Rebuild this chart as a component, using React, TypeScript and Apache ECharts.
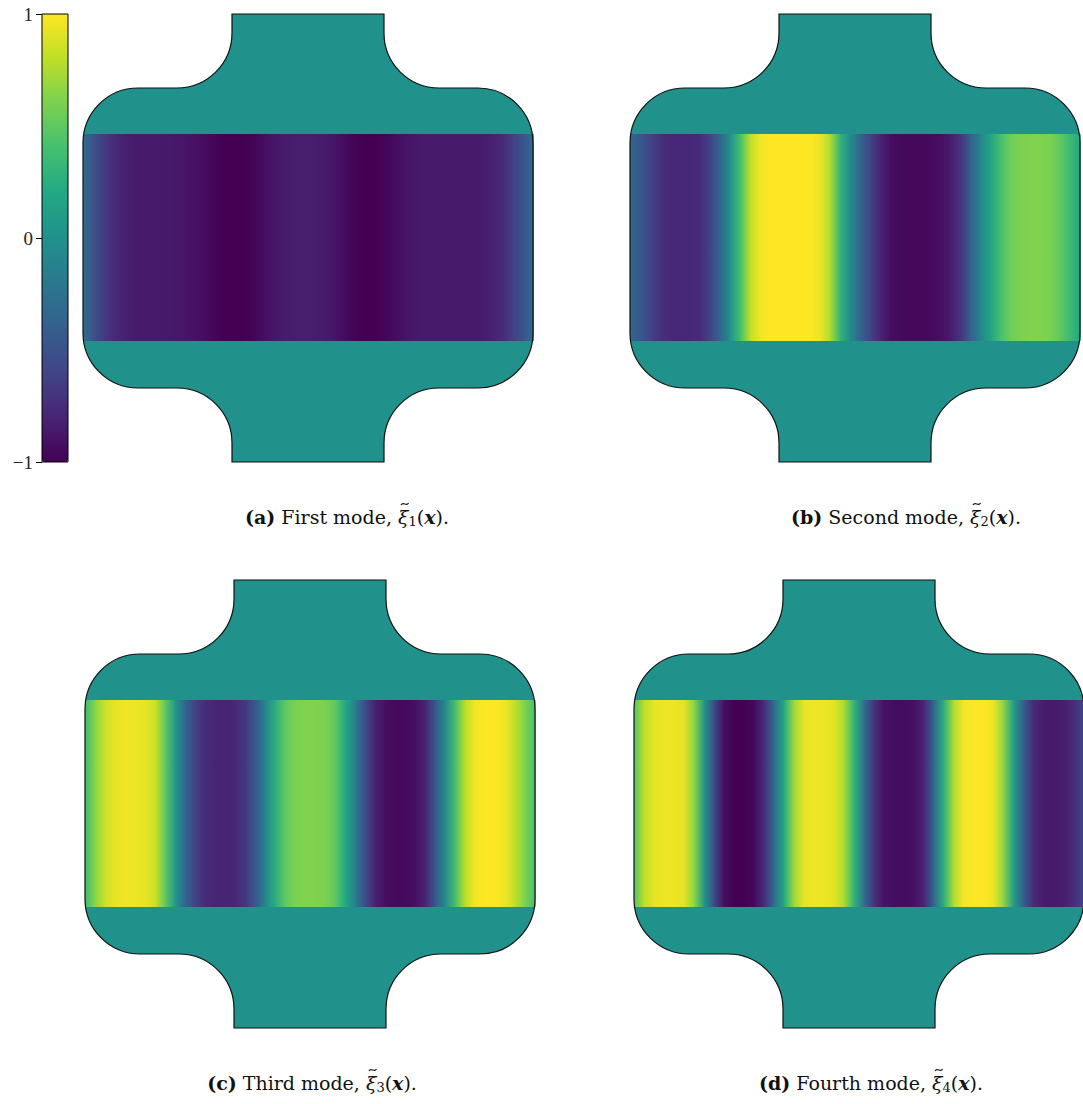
import React, { useEffect, useRef } from "react";
import * as echarts from "echarts";

// ---------- data ----------
const colorbarTicks = [-1, 0, 1];
const sampleIndex = [
  0, 1, 2, 3, 4, 5, 6, 7, 8, 9, 10, 11, 12, 13, 14, 15, 16, 17, 18, 19, 20, 21, 22,
  23, 24, 25, 26, 27, 28, 29, 30, 31, 32, 33, 34, 35, 36, 37, 38, 39, 40, 41, 42, 43, 44, 45,
];
const mode1 = [
  -0.3, -0.5, -0.65, -0.75, -0.82, -0.85, -0.86, -0.86, -0.86, -0.87, -0.88, -0.9, -0.93,
  -0.97, -1.0, -1.0, -1.0, -0.98, -0.93, -0.88, -0.85, -0.84, -0.84, -0.84, -0.85, -0.88,
  -0.93, -0.98, -1.0, -1.0, -0.99, -0.95, -0.9, -0.87, -0.86, -0.86, -0.86, -0.86, -0.86,
  -0.86, -0.85, -0.82, -0.75, -0.62, -0.48, -0.3,
];
const mode2 = [
  -0.35, -0.45, -0.6, -0.72, -0.77, -0.78, -0.78, -0.75, -0.6, -0.35, 0.0, 0.4, 0.8, 0.97,
  1.0, 1.0, 1.0, 1.0, 1.0, 0.95, 0.75, 0.3, -0.05, -0.35, -0.6, -0.8, -0.92, -0.95, -0.96,
  -0.96, -0.95, -0.92, -0.85, -0.7, -0.4, -0.1, 0.15, 0.4, 0.55, 0.6, 0.62, 0.62, 0.6, 0.5,
  0.35, 0.2,
];
const mode3 = [
  0.35, 0.65, 0.85, 0.93, 0.95, 0.95, 0.93, 0.85, 0.5, 0.05, -0.35, -0.62, -0.75, -0.8,
  -0.8, -0.78, -0.68, -0.45, -0.1, 0.25, 0.5, 0.6, 0.62, 0.62, 0.6, 0.5, 0.2, -0.15, -0.55,
  -0.82, -0.92, -0.95, -0.95, -0.92, -0.8, -0.45, -0.05, 0.4, 0.8, 0.97, 1.0, 1.0, 0.95,
  0.8, 0.6, 0.4,
];
const mode4 = [
  0.45, 0.8, 0.93, 0.95, 0.95, 0.92, 0.65, 0.05, -0.55, -0.92, -1.0, -1.0, -0.95, -0.75,
  -0.3, 0.2, 0.7, 0.93, 0.95, 0.95, 0.92, 0.75, 0.3, -0.25, -0.7, -0.9, -0.93, -0.93,
  -0.92, -0.8, -0.35, 0.25, 0.75, 0.97, 1.0, 1.0, 0.95, 0.65, 0.1, -0.4, -0.75, -0.85,
  -0.86, -0.84, -0.75, -0.6,
];
const modes = [mode1, mode2, mode3, mode4];
const captionLetters = ["(a)", "(b)", "(c)", "(d)"];
const captionWords = ["First mode", "Second mode", "Third mode", "Fourth mode"];
const captionSubs = ["1", "2", "3", "4"];

// ---------- layout / style ----------
const PANEL_W = 450;
const PANEL_H = 448;
const BAND_TOP = 120;
const BAND_H = 207;
const panels = [
  { left: 83, top: 14, capX: 347, capY: 517 },
  { left: 630, top: 14, capX: 906, capY: 517 },
  { left: 85, top: 580, capX: 312, capY: 1083 },
  { left: 634, top: 580, capX: 871, capY: 1083 },
];
const CB = { left: 42, top: 14, width: 26, height: 448 };

const VIRIDIS = [
  "#440154", "#482475", "#414487", "#355f8d", "#2a788e", "#21918c",
  "#22a884", "#44bf70", "#7ad151", "#bddf26", "#fde725",
];

function hexToRgb(h: string) {
  return [1, 3, 5].map((k) => parseInt(h.slice(k, k + 2), 16));
}
function viridis(v: number) {
  let t = (v + 1) / 2;
  t = Math.max(0, Math.min(1, t));
  const p = t * (VIRIDIS.length - 1);
  const i = Math.min(Math.floor(p), VIRIDIS.length - 2);
  const f = p - i;
  const a = hexToRgb(VIRIDIS[i]);
  const b = hexToRgb(VIRIDIS[i + 1]);
  const c = a.map((x, k) => Math.round(x + (b[k] - x) * f));
  return `rgb(${c[0]},${c[1]},${c[2]})`;
}

function shapePath() {
  const W = PANEL_W, H = PANEL_H;
  const cx = W / 2;
  const nw = 76; // neck half width
  const s = 74; // shoulder depth
  const r1 = 55; // notch radius
  const r2 = 55; // corner radius
  const nl = cx - nw, nr = cx + nw;
  return [
    `M ${nl} 0 L ${nr} 0`,
    `L ${nr} ${s - r1}`,
    `A ${r1} ${r1} 0 0 0 ${nr + r1} ${s}`,
    `L ${W - r2} ${s}`,
    `A ${r2} ${r2} 0 0 1 ${W} ${s + r2}`,
    `L ${W} ${H - s - r2}`,
    `A ${r2} ${r2} 0 0 1 ${W - r2} ${H - s}`,
    `L ${nr + r1} ${H - s}`,
    `A ${r1} ${r1} 0 0 0 ${nr} ${H - s + r1}`,
    `L ${nr} ${H} L ${nl} ${H}`,
    `L ${nl} ${H - s + r1}`,
    `A ${r1} ${r1} 0 0 0 ${nl - r1} ${H - s}`,
    `L ${r2} ${H - s}`,
    `A ${r2} ${r2} 0 0 1 0 ${H - s - r2}`,
    `L 0 ${s + r2}`,
    `A ${r2} ${r2} 0 0 1 ${r2} ${s}`,
    `L ${nl - r1} ${s}`,
    `A ${r1} ${r1} 0 0 0 ${nl} ${s - r1}`,
    `Z`,
  ].join(" ");
}

let registered = false;
function registerShapes() {
  if (registered) return;
  registered = true;
  echarts.graphic.registerShape("modeDomain", echarts.graphic.extendPath(shapePath(), {}) as any);
}

const SERIF = "Liberation Serif";
const CAP_FONT = "DejaVu Serif";
const CAP_SIZE = 19;
const SUB_SIZE = 13;

export default function App() {
  const ref = useRef<HTMLDivElement>(null);
  useEffect(() => {
    registerShapes();
    const chart = echarts.init(ref.current!, null, { renderer: "svg" });

    const ctx = document.createElement("canvas").getContext("2d")!;
    const measure = (text: string, font: string) => {
      ctx.font = font;
      return ctx.measureText(text).width;
    };
    const F = `"${CAP_FONT}"`;
    const fBold = `bold ${CAP_SIZE}px ${F}`;
    const fNorm = `${CAP_SIZE}px ${F}`;
    const fItal = `italic ${CAP_SIZE}px ${F}`;
    const fSub = `${SUB_SIZE}px ${F}`;
    const fBI = `italic bold ${CAP_SIZE}px ${F}`;

    const grids: any[] = panels.map((p) => ({
      left: p.left,
      top: p.top + BAND_TOP,
      width: PANEL_W,
      height: BAND_H,
      containLabel: false,
    }));
    grids.push({
      left: CB.left,
      top: CB.top,
      width: CB.width,
      height: CB.height,
      show: true,
      borderColor: "#000",
      borderWidth: 1,
      backgroundColor: "transparent",
      z: 10,
    });

    const xAxes: any[] = panels.map((_, i) => ({
      type: "value",
      gridIndex: i,
      min: sampleIndex[0],
      max: sampleIndex[sampleIndex.length - 1],
      show: false,
    }));
    xAxes.push({ type: "value", gridIndex: 4, show: false, min: 0, max: 1 });
    const yAxes: any[] = panels.map((_, i) => ({
      type: "value",
      gridIndex: i,
      min: 0,
      max: 1,
      show: false,
    }));
    yAxes.push({
      type: "value",
      gridIndex: 4,
      min: colorbarTicks[0],
      max: colorbarTicks[colorbarTicks.length - 1],
      interval: 1,
      position: "left",
      axisLine: { show: false },
      splitLine: { show: false },
      axisTick: { show: true, length: 6, lineStyle: { color: "#000", width: 1 } },
      axisLabel: {
        fontFamily: SERIF,
        fontSize: 19,
        color: "#222",
        margin: 9,
        formatter: (v: number) => (v < 0 ? "\u2212" + Math.abs(v) : String(v)),
      },
      z: 10,
    });

    const series: any[] = modes.map((vals, i) => ({
      type: "custom",
      coordinateSystem: "cartesian2d",
      xAxisIndex: i,
      yAxisIndex: i,
      silent: true,
      clip: false,
      data: sampleIndex.map((x, k) => [x, vals[k]]),
      renderItem: (params: any, api: any) => {
        const k = params.dataIndex;
        if (k >= vals.length - 1) return null;
        const p0 = api.coord([sampleIndex[k], 1]);
        const p1 = api.coord([sampleIndex[k + 1], 0]);
        return {
          type: "rect",
          shape: { x: p0[0], y: p0[1], width: p1[0] - p0[0] + 0.7, height: p1[1] - p0[1] },
          style: {
            fill: new echarts.graphic.LinearGradient(0, 0, 1, 0, [
              { offset: 0, color: viridis(vals[k]) },
              { offset: 1, color: viridis(vals[k + 1]) },
            ]),
            stroke: null,
          },
        };
      },
    }));

    const graphics: any[] = [];
    panels.forEach((p) => {
      graphics.push({
        type: "modeDomain",
        x: p.left,
        y: p.top,
        z: 0,
        silent: true,
        style: { fill: "#21918c", stroke: null },
      });
      graphics.push({
        type: "modeDomain",
        x: p.left,
        y: p.top,
        z: 50,
        silent: true,
        style: { fill: "none", stroke: "#111", lineWidth: 1.2 },
      });
    });
    panels.forEach((p, i) => {
      const t1 = " " + captionWords[i] + ", ";
      const parts = [
        measure(captionLetters[i], fBold),
        measure(t1, fNorm),
        measure("\u03BE", fItal),
        measure(captionSubs[i], fSub),
        measure("(", fNorm),
        measure("x", fBI),
        measure(").", fNorm),
      ];
      const total = parts.reduce((a, b) => a + b, 0);
      const startX = p.capX - total / 2;
      const xc = startX + parts[0] + parts[1] + parts[2] / 2 + 1.5;
      const yc = p.capY - 13;
      graphics.push({
        type: "text",
        x: startX,
        y: p.capY,
        z: 50,
        style: {
          text: `{b|${captionLetters[i]}}{t|${t1}}{g|\u03BE}{s|${captionSubs[i]}}{t|(}{x|x}{t|).}`,
          align: "left",
          verticalAlign: "middle",
          fill: "#111",
          rich: {
            b: { fontFamily: CAP_FONT, fontSize: CAP_SIZE, fontWeight: "bold", lineHeight: 22, fill: "#111" },
            t: { fontFamily: CAP_FONT, fontSize: CAP_SIZE, lineHeight: 22, fill: "#111" },
            g: { fontFamily: CAP_FONT, fontSize: CAP_SIZE, fontStyle: "italic", lineHeight: 22, fill: "#111" },
            s: { fontFamily: CAP_FONT, fontSize: SUB_SIZE, lineHeight: 12, verticalAlign: "bottom", fill: "#111" },
            x: { fontFamily: CAP_FONT, fontSize: CAP_SIZE, fontStyle: "italic", fontWeight: "bold", lineHeight: 22, fill: "#111" },
          },
        },
      });
      // tilde accent above the xi
      graphics.push({
        type: "bezierCurve",
        z: 50,
        silent: true,
        shape: {
          x1: xc - 3.8,
          y1: yc + 1,
          cpx1: xc - 1.5,
          cpy1: yc - 3.2,
          cpx2: xc + 1.5,
          cpy2: yc + 3.2,
          x2: xc + 3.8,
          y2: yc - 1,
        },
        style: { stroke: "#111", lineWidth: 1.1, fill: "none" },
      });
    });

    chart.setOption({
      animation: false,
      backgroundColor: "#fff",
      textStyle: { fontFamily: SERIF },
      grid: grids,
      xAxis: xAxes,
      yAxis: yAxes,
      visualMap: {
        type: "continuous",
        min: -1,
        max: 1,
        dimension: 1,
        seriesIndex: [0, 1, 2, 3],
        calculable: false,
        hoverLink: false,
        orient: "vertical",
        left: CB.left,
        top: CB.top,
        itemWidth: CB.width,
        itemHeight: CB.height,
        padding: 0,
        showLabel: false,
        inRange: { color: VIRIDIS },
        z: 1,
      },
      graphic: { elements: graphics },
      series,
    });
    return () => chart.dispose();
  }, []);
  return (
    <div
      ref={ref}
      style={{ position: "fixed", left: 0, top: 0, width: 1083, height: 1104, background: "#fff" }}
    />
  );
}
